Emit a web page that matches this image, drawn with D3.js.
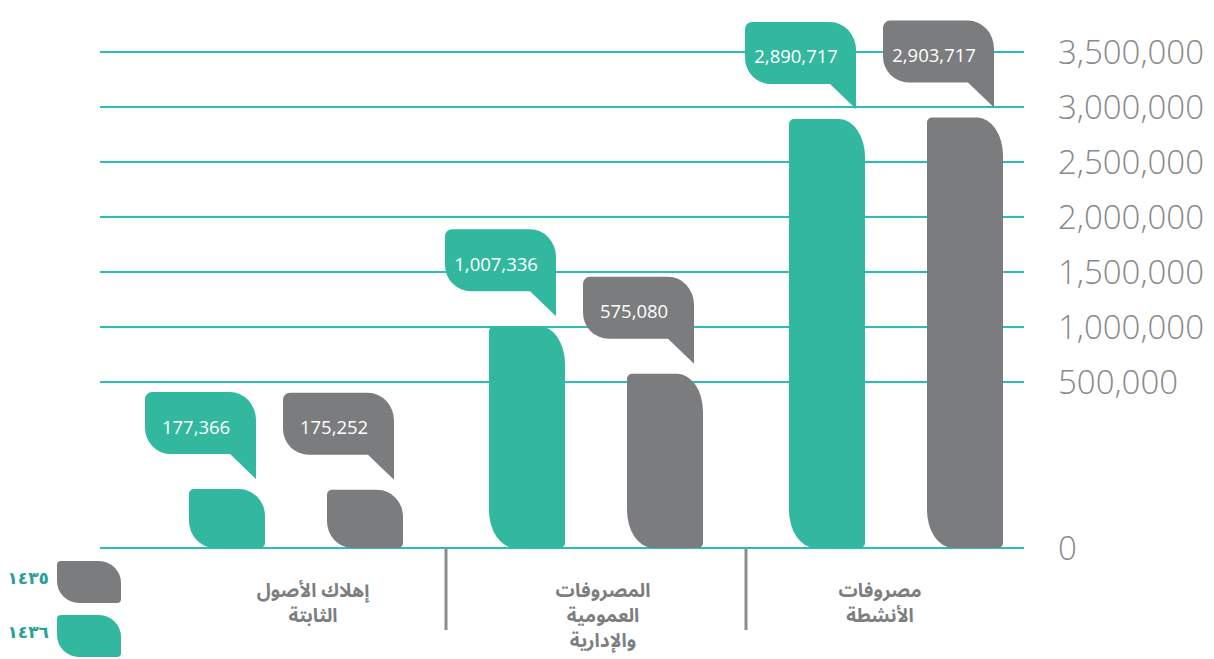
<!DOCTYPE html>
<html lang="ar">
<head>
<meta charset="utf-8">
<script src="https://cdn.jsdelivr.net/npm/d3@7"></script>
<style>
  html, body { margin: 0; padding: 0; background: #ffffff; }
  svg { display: block; }
</style>
</head>
<body>
<svg id="chart" width="1214" height="659"></svg>
<script>
// Expense categories (each label split into its display lines)
const categoryLines = [
  ["إهلاك الأصول", "الثابتة"],
  ["المصروفات", "العمومية", "والإدارية"],
  ["مصروفات", "الأنشطة"]
];
const categoryKeys = ["depreciation", "general", "activities"];

// Years (Hijri) shown in the legend
const years = ["١٤٣٥", "١٤٣٦"];

// Values per year, in category order
const values1436 = [177366, 1007336, 2890717];
const values1435 = [175252, 575080, 2903717];

// Axis ticks
const tickValues = [0, 500000, 1000000, 1500000, 2000000, 2500000, 3000000, 3500000];
const tickLabels = ["0", "500,000", "1,000,000", "1,500,000", "2,000,000", "2,500,000", "3,000,000", "3,500,000"];

const GREEN = "#32b89f";
const GREY = "#7a7c7e";
const GRID = "#2cbcb9";
const TEXT_GREY = "#7c7e80";

const svg = d3.select("#chart");

// The value axis is stretched in its first segment (0–500,000)
const y = d3.scaleLinear()
  .domain([0, 500000, 3500000])
  .range([548, 382, 52]);

const x = d3.scaleBand()
  .domain(categoryKeys)
  .range([146, 1046])
  .paddingInner(0)
  .paddingOuter(0);

const seriesKeys = ["1436", "1435"];
const xInner = d3.scaleBand()
  .domain(seriesKeys)
  .range([0, x.bandwidth()])
  .paddingInner(0.449)
  .paddingOuter(0.3116);

// Gridlines
svg.append("g")
  .selectAll("line")
  .data(tickValues)
  .join("line")
  .attr("x1", 100)
  .attr("x2", 1024)
  .attr("y1", d => y(d))
  .attr("y2", d => y(d))
  .attr("stroke", GRID)
  .attr("stroke-width", 2);

// Tick labels at the right
svg.append("g")
  .selectAll("text")
  .data(tickValues)
  .join("text")
  .attr("x", 1058)
  .attr("y", d => y(d))
  .attr("dy", "0.35em")
  .attr("font-family", "'Open Sans', sans-serif")
  .attr("font-weight", 300)
  .attr("font-size", 33)
  .attr("fill", "#88898b")
  .text((d, i) => tickLabels[i]);

// Leaf-shaped bar: large rounded corners at top-right and bottom-left
function leafPath(x0, y0, w, h, rx, ry, r) {
  return `M${x0 + r},${y0}` +
    `H${x0 + w - rx}` +
    `A${rx},${ry} 0 0 1 ${x0 + w},${y0 + ry}` +
    `V${y0 + h - r}` +
    `A${r},${r} 0 0 1 ${x0 + w - r},${y0 + h}` +
    `H${x0 + rx}` +
    `A${rx},${ry} 0 0 1 ${x0},${y0 + h - ry}` +
    `V${y0 + r}` +
    `A${r},${r} 0 0 1 ${x0 + r},${y0}Z`;
}

// Speech bubble whose tail points down at its right edge
function bubblePath(x1, tipY, w, bodyH, tail) {
  const x0 = x1 - w;
  const yb = tipY - tail;
  const y0 = yb - bodyH;
  return `M${x0 + 7},${y0}` +
    `H${x1 - 26}` +
    `A26,28 0 0 1 ${x1},${y0 + 28}` +
    `V${tipY}` +
    `L${x1 - 26},${yb}` +
    `H${x0 + 26}` +
    `A26,26 0 0 1 ${x0},${yb - 26}` +
    `V${y0 + 7}` +
    `A7,7 0 0 1 ${x0 + 7},${y0}Z`;
}

const rows = [];
categoryKeys.forEach((k, i) => {
  rows.push({ cat: k, series: "1436", value: values1436[i], color: GREEN });
  rows.push({ cat: k, series: "1435", value: values1435[i], color: GREY });
});

const bw = xInner.bandwidth();
const fmt = d3.format(",");

const bars = svg.append("g");
bars.selectAll("path")
  .data(rows)
  .join("path")
  .attr("fill", d => d.color)
  .attr("d", d => {
    const x0 = x(d.cat) + xInner(d.series);
    const top = y(d.value);
    const h = y(0) - top;
    const ry = Math.min(38, h * 0.46);
    const rx = Math.min(26, bw * 0.34);
    return leafPath(x0, top, bw, h, rx, ry, 5);
  });

// Value callouts
const BW = 111, BH = 62, TAIL = 25;
const callouts = svg.append("g")
  .selectAll("g")
  .data(rows)
  .join("g");

callouts.append("path")
  .attr("fill", d => d.color)
  .attr("d", d => {
    const x1 = x(d.cat) + xInner(d.series) + bw - 9;
    const tip = y(d.value) - 10;
    return bubblePath(x1, tip, BW, BH, TAIL);
  });

callouts.append("text")
  .attr("x", d => x(d.cat) + xInner(d.series) + bw - 9 - BW * 0.54)
  .attr("y", d => y(d.value) - 10 - TAIL - BH / 2 + 4)
  .attr("dy", "0.35em")
  .attr("text-anchor", "middle")
  .attr("font-family", "'Open Sans', sans-serif")
  .attr("font-size", 18.5)
  .attr("fill", "#ffffff")
  .text(d => fmt(d.value));

// Category separators
svg.append("g")
  .selectAll("line")
  .data(categoryKeys.slice(1))
  .join("line")
  .attr("x1", d => x(d))
  .attr("x2", d => x(d))
  .attr("y1", y(0))
  .attr("y2", 630)
  .attr("stroke", "#8a8c8e")
  .attr("stroke-width", 3);

// Category labels, one text element per line
const labelShift = [17, 7, -16];
const labelRows = [];
categoryKeys.forEach((k, i) => {
  categoryLines[i].forEach((t, j) => {
    labelRows.push({ t, j, cx: x(k) + x.bandwidth() / 2 + labelShift[i] });
  });
});

svg.append("g")
  .selectAll("text")
  .data(labelRows)
  .join("text")
  .attr("x", d => d.cx)
  .attr("y", d => 597 + d.j * 25)
  .attr("text-anchor", "middle")
  .attr("direction", "rtl")
  .attr("font-family", "'Noto Sans Arabic', 'DejaVu Sans', sans-serif")
  .attr("font-weight", 700)
  .attr("font-size", 19)
  .attr("fill", TEXT_GREY)
  .text(d => d.t);

// Legend
const legendColors = [GREY, GREEN];
const legend = svg.append("g")
  .selectAll("g")
  .data(years)
  .join("g")
  .attr("transform", (d, i) => `translate(0, ${561 + i * 54})`);

legend.append("path")
  .attr("fill", (d, i) => legendColors[i])
  .attr("d", leafPath(57, 0, 64, 42, 22, 22, 4));

legend.append("text")
  .attr("x", 49)
  .attr("y", 17)
  .attr("dy", "0.35em")
  .attr("text-anchor", "end")
  .attr("font-family", "'DejaVu Sans', sans-serif")
  .attr("font-weight", 700)
  .attr("font-size", 17)
  .attr("fill", "#2a9f98")
  .text(d => d);
</script>
</body>
</html>
